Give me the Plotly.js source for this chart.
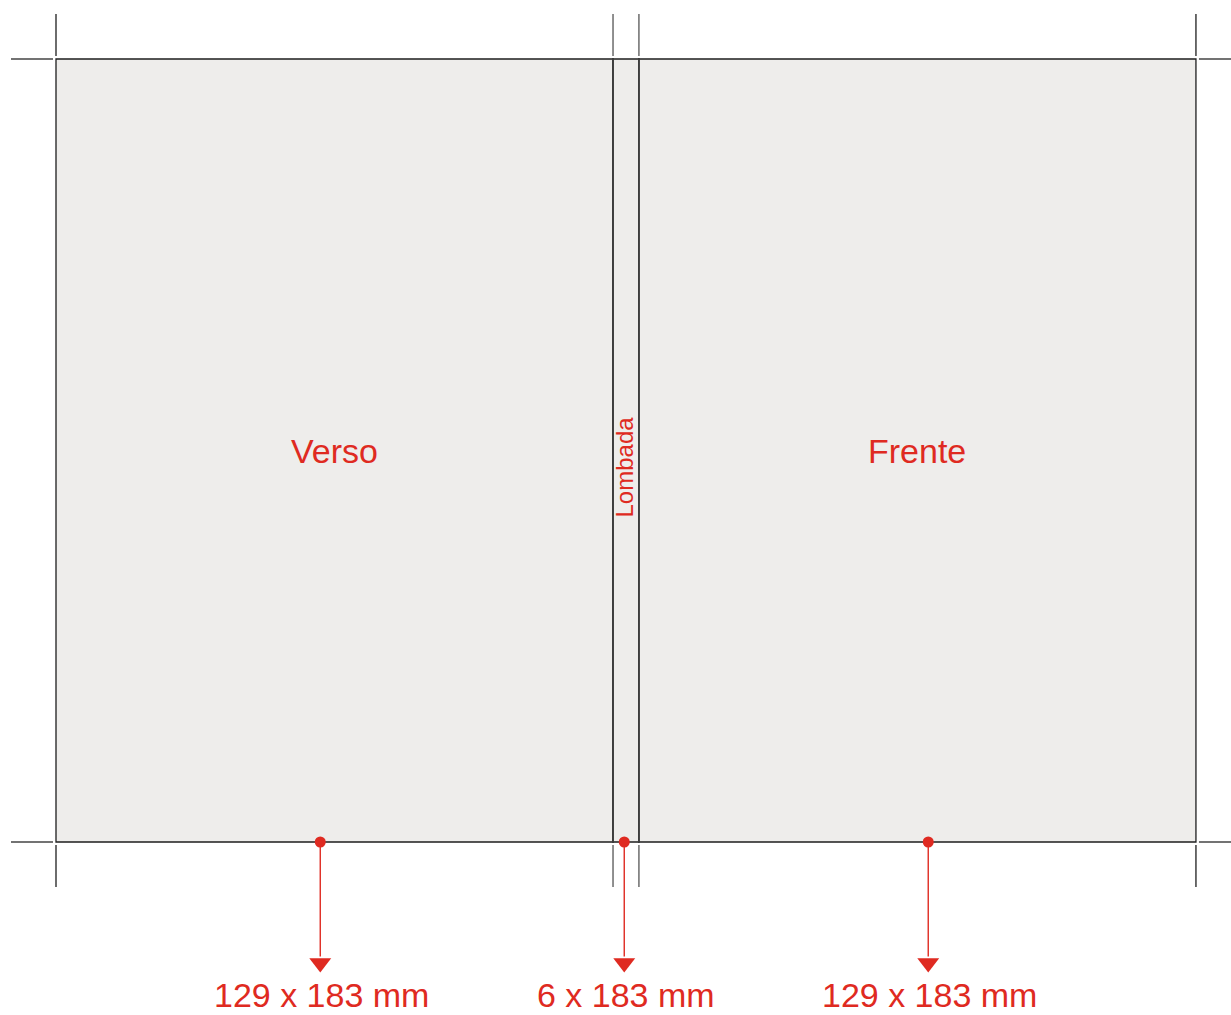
<!DOCTYPE html>
<html>
<head>
<meta charset="utf-8">
<script src="https://cdn.plot.ly/plotly-3.0.1.min.js"></script>
<style>html,body{margin:0;padding:0;background:#fff;}#chart{width:1231px;height:1015px;}</style>
</head>
<body>
<div id="chart"></div>
<script>
// ---- data (mm) ----
const panelNames = ['Verso', 'Lombada', 'Frente'];
const panelWidthsMm = [129, 6, 129];
const panelHeightMm = 183;
const dimLabels = panelWidthsMm.map(w => w + ' x ' + panelHeightMm + ' mm');

// ---- style / layout constants ----
const RED = '#df2a21';
const FILL = '#eeedeb';
const EDGE = '#1e1e1e';
const FONT = 'Arial, "Liberation Sans", sans-serif';
const W = 1231, H = 1015;
const pxX = 4.318, pxY = 4.279;          // px per mm
const originPx = {x: 56, y: 842};         // where (0,0) mm sits
const xRange = [-originPx.x / pxX, (W - originPx.x) / pxX];
const yRange = [-(H - originPx.y) / pxY, panelHeightMm + 59 / pxY];

const arrowOffsetMm = [-3.3, -0.4, 2.5];  // small horizontal shifts of the measurement arrows
const gapX = 3 / pxX, gapY = 3 / pxY;
const markLenX = 42 / pxX, markLenY = 42 / pxY;

// panel boundaries
const edges = [0];
panelWidthsMm.forEach(w => edges.push(edges[edges.length - 1] + w));
const totalW = edges[edges.length - 1];

const shapes = [];
panelWidthsMm.forEach((w, i) => {
  shapes.push({type: 'rect', xref: 'x', yref: 'y', x0: edges[i], x1: edges[i + 1], y0: 0, y1: panelHeightMm,
    fillcolor: FILL, line: {color: EDGE, width: 1.3}, layer: 'below'});
});
[edges[1], edges[2]].forEach(x => {
  shapes.push({type: 'line', xref: 'x', yref: 'y', x0: x, x1: x, y0: 0, y1: panelHeightMm,
    line: {color: '#3f3f3f', width: 1.8}});
});
edges.forEach((x, i) => {
  const c = (i === 1 || i === 2) ? '#555555' : EDGE;
  shapes.push({type: 'line', xref: 'x', yref: 'y', x0: x, x1: x, y0: panelHeightMm + gapY, y1: panelHeightMm + gapY + markLenY,
    line: {color: c, width: 1.3}});
  shapes.push({type: 'line', xref: 'x', yref: 'y', x0: x, x1: x, y0: -gapY, y1: -gapY - markLenY,
    line: {color: c, width: 1.3}});
});
[0, panelHeightMm].forEach(y => {
  shapes.push({type: 'line', xref: 'x', yref: 'y', x0: -gapX - 42 / pxX, x1: -gapX, y0: y, y1: y,
    line: {color: '#444444', width: 1.3}});
  shapes.push({type: 'line', xref: 'x', yref: 'y', x0: totalW + gapX, x1: totalW + gapX + markLenX, y0: y, y1: y,
    line: {color: '#444444', width: 1.3}});
});

const centers = panelWidthsMm.map((w, i) => edges[i] + w / 2);
const arrowX = centers.map((c, i) => c + arrowOffsetMm[i]);
const arrowTipY = -(963 - originPx.y) / pxY;
const labelY = -(995 - originPx.y) / pxY;

const traces = [];
arrowX.forEach(x => {
  traces.push({x: [x, x], y: [0, arrowTipY + 1.5], mode: 'lines', line: {color: RED, width: 1.4},
    hoverinfo: 'skip', showlegend: false});
});
traces.push({x: arrowX, y: arrowX.map(() => arrowTipY), mode: 'markers',
  marker: {symbol: 'triangle-down', size: 19, color: RED}, hoverinfo: 'skip', showlegend: false});
traces.push({x: arrowX, y: arrowX.map(() => 0), mode: 'markers',
  marker: {symbol: 'circle', size: 11, color: RED}, hoverinfo: 'skip', showlegend: false});

const annotations = [];
panelNames.forEach((name, i) => {
  const isSpine = i === 1;
  annotations.push({xref: 'x', yref: 'y', x: centers[i] - (isSpine ? 0.35 : 0), y: isSpine ? (842 - 467) / pxY : (842 - 451) / pxY,
    text: name, showarrow: false, textangle: isSpine ? -90 : 0,
    font: {family: FONT, size: isSpine ? 24 : 34, color: RED}});
});
dimLabels.forEach((t, i) => {
  annotations.push({xref: 'x', yref: 'y', x: arrowX[i] + (i === 0 ? 0.4 : 0.3), y: labelY, text: t, showarrow: false,
    font: {family: FONT, size: 34, color: RED}});
});

const layout = {
  width: W, height: H,
  margin: {l: 0, r: 0, t: 0, b: 0},
  paper_bgcolor: '#ffffff', plot_bgcolor: '#ffffff',
  xaxis: {range: xRange, visible: false, fixedrange: true},
  yaxis: {range: yRange, visible: false, fixedrange: true},
  shapes: shapes,
  annotations: annotations,
  showlegend: false
};
Plotly.newPlot('chart', traces, layout, {staticPlot: true, displayModeBar: false});
</script>
</body>
</html>
